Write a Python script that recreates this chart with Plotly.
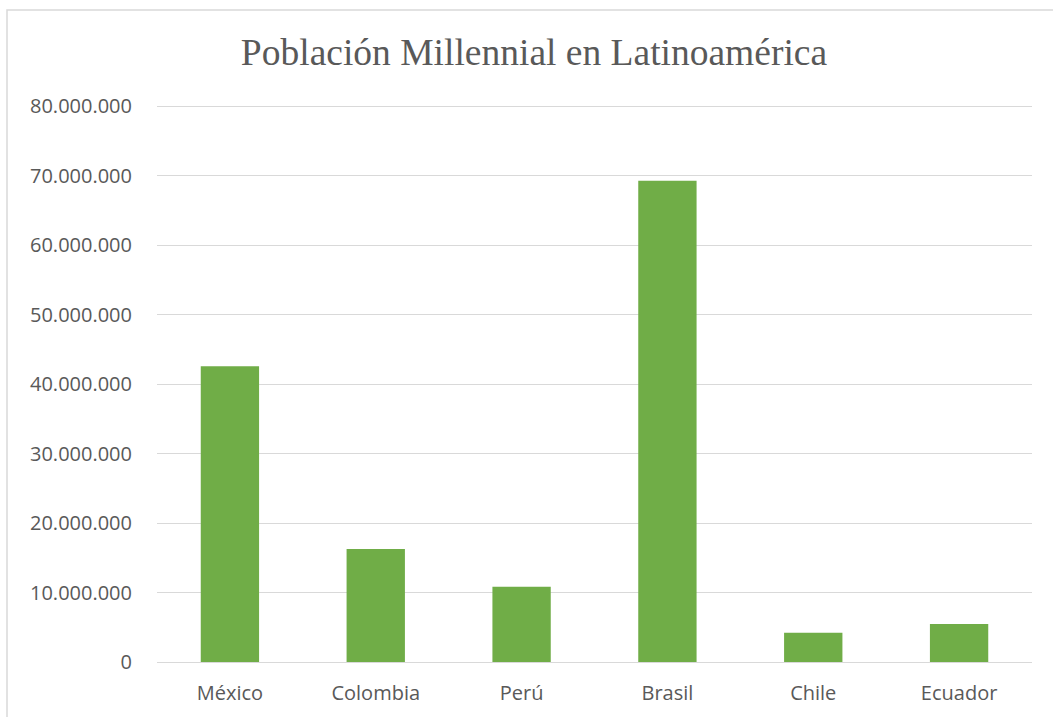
import plotly.graph_objects as go

paises = ["México", "Colombia", "Perú", "Brasil", "Chile", "Ecuador"]
poblacion = [42550000, 16260000, 10830000, 69240000, 4220000, 5470000]
tick_vals = [0, 10000000, 20000000, 30000000, 40000000, 50000000, 60000000, 70000000, 80000000]
tick_text = ["0", "10.000.000", "20.000.000", "30.000.000", "40.000.000",
             "50.000.000", "60.000.000", "70.000.000", "80.000.000"]

W, H = 1053, 717
ymax = 80300000
L, R, B = 157, 21, 55
ph = 556 * ymax / 80000000
T = H - B - ph
pw = W - L - R

fig = go.Figure(go.Bar(x=paises, y=poblacion, marker=dict(color="#70AD47", line=dict(width=0))))

fig.update_layout(
    width=W, height=H,
    margin=dict(l=L, r=R, t=T, b=B, autoexpand=False),
    paper_bgcolor="white", plot_bgcolor="white",
    bargap=0.6,
    showlegend=False,
    title=dict(text="Población Millennial en Latinoamérica",
               font=dict(family="Liberation Serif", size=37.5, color="#595959"),
               x=534 / W, xanchor="center", xref="container",
               y=1 - 52 / H, yanchor="middle", yref="container"),
    font=dict(family="Open Sans", size=20, color="#595959"),
    shapes=[dict(type="rect", xref="paper", yref="paper",
                 x0=(7 - L) / pw, x1=(W + 20 - L) / pw,
                 y0=-(B + 20) / ph, y1=(H - B - 10) / ph,
                 line=dict(color="#D9D9D9", width=1.5), fillcolor="rgba(0,0,0,0)", layer="below")],
)
fig.update_yaxes(range=[0, ymax], tickvals=tick_vals, ticktext=tick_text,
                 showgrid=True, gridcolor="#D9D9D9", gridwidth=1,
                 zeroline=False, showline=False, ticklabelstandoff=24, automargin=False,
                 tickfont=dict(family="Open Sans", size=20, color="#595959"))
fig.update_xaxes(showline=True, linecolor="#D9D9D9", linewidth=1, showgrid=False,
                 ticklabelstandoff=13, automargin=False,
                 tickfont=dict(family="Open Sans", size=20, color="#595959"))

fig.write_html("out.html")
